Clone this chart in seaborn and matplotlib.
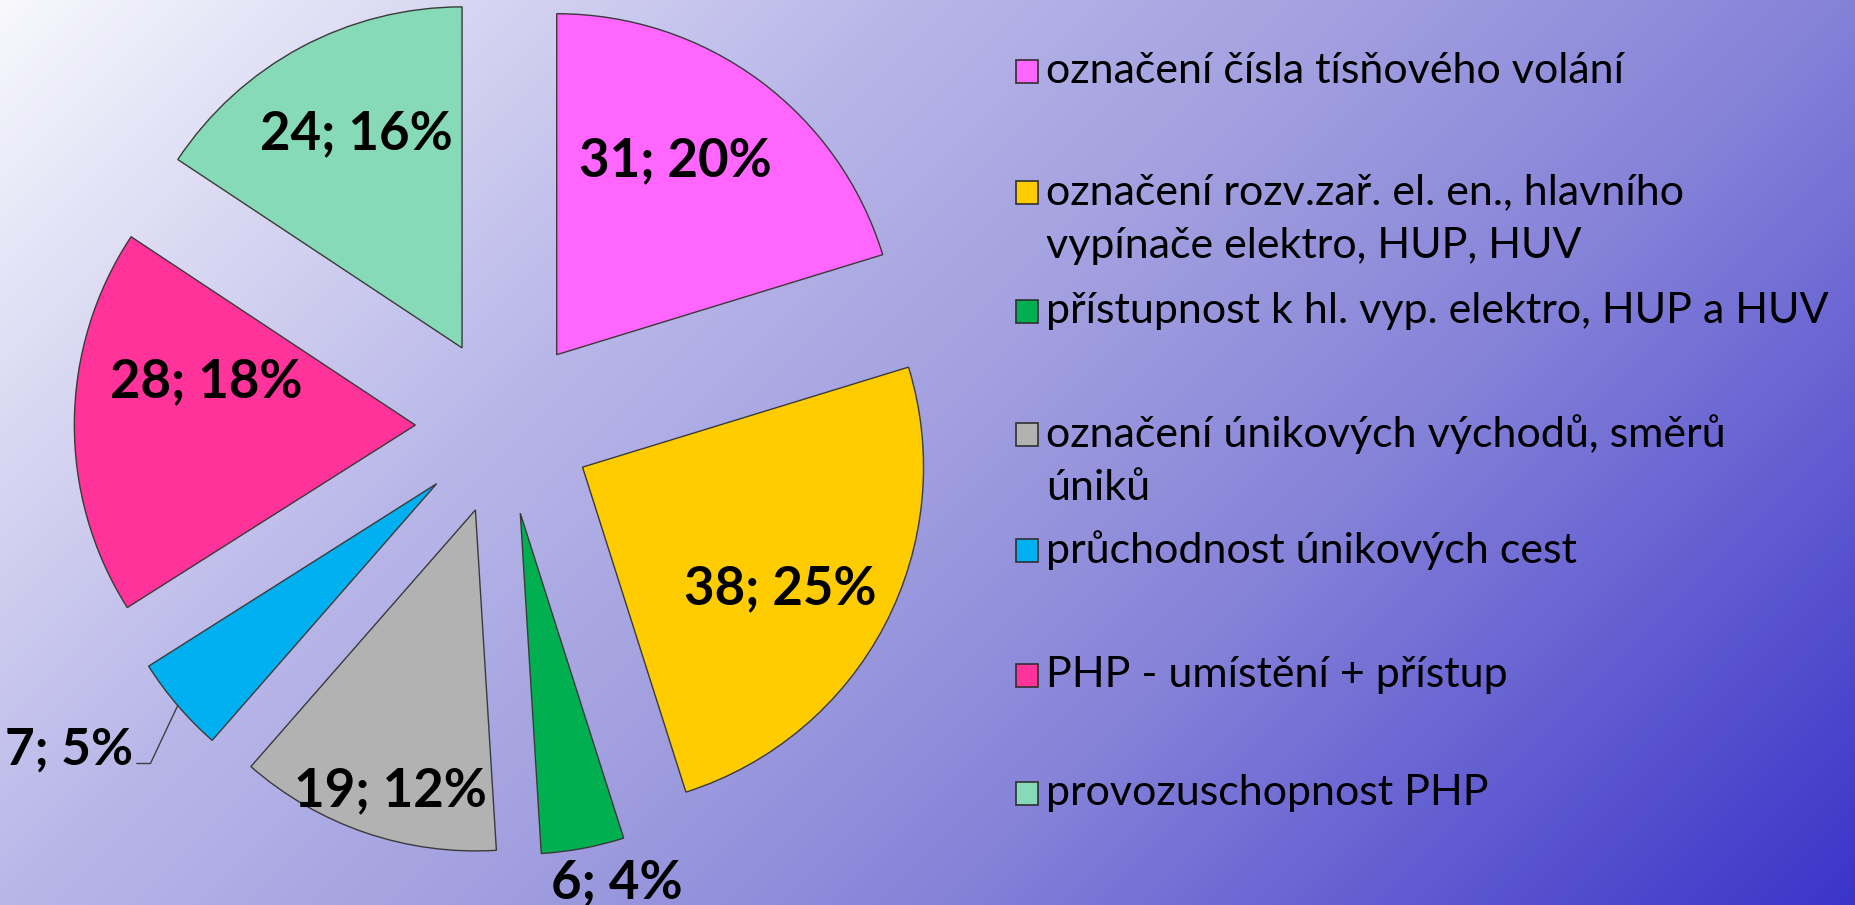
import numpy as np
import matplotlib
matplotlib.use("Agg")
import matplotlib.pyplot as plt
import seaborn as sns
from matplotlib.colors import LinearSegmentedColormap
from matplotlib.patches import Rectangle

# data
categories = [
    "označení čísla tísňového volání",
    "označení rozv.zař. el. en., hlavního\nvypínače elektro, HUP, HUV",
    "přístupnost k hl. vyp. elektro, HUP a HUV",
    "označení únikových východů, směrů\núniků",
    "průchodnost únikových cest",
    "PHP - umístění + přístup",
    "provozuschopnost PHP",
]
counts = [31, 38, 6, 19, 7, 28, 24]
shares = [20, 25, 4, 12, 5, 18, 16]
colors = ['#FF66FF', '#FFCC00', '#00B050', '#B2B2B2', '#00B0F0', '#FF3399', '#86DAB8']

# label placement (distance from wedge tip in radii, angle shift from bisector)
label_dist = [0.665, 0.68, 1.12, 0.86, None, 0.625, 0.70]
label_shift = [5, -4, 4, 2, 0, -11, -2]

sns.set_theme(style="white")
plt.rcParams['font.family'] = ['Lato', 'DejaVu Sans']

W, H = 1856, 905
R = 341.0
cx, cy = 504.0, 426.0

fig = plt.figure(figsize=(W / 100, H / 100), dpi=100)

# gradient background
bg = fig.add_axes([0, 0, 1, 1])
yy, xx = np.mgrid[0:H, 0:W]
grad = (xx + yy) / (W + H - 2)
cmap = LinearSegmentedColormap.from_list(
    "bg", [(0, '#f8f8fd'), (0.33, '#b8b6e8'), (0.5, '#a19fdf'), (0.67, '#8582d9'), (1, '#3b34c9')])
bg.imshow(grad, cmap=cmap, aspect='auto', interpolation='bilinear')
bg.axis('off')

# pie
ax = fig.add_axes([0, 0, 1, 1])
ax.patch.set_alpha(0)
wedges, _ = ax.pie(counts, colors=colors, startangle=90, counterclock=False,
                   explode=[0.26] * len(counts),
                   wedgeprops=dict(edgecolor='#3a3a3a', linewidth=1.0))
ax.set_xlim(-cx / R, (W - cx) / R)
ax.set_ylim(-(H - cy) / R, cy / R)
ax.set_aspect('auto')
ax.axis('off')

for i, w in enumerate(wedges):
    mid = np.deg2rad((w.theta1 + w.theta2) / 2)
    txt = f"{counts[i]}; {shares[i]}%"
    if label_dist[i] is None:
        # outside label with leader line
        p0 = (w.center[0] + np.cos(mid), w.center[1] + np.sin(mid))
        p1 = (p0[0] - 0.08, p0[1] - 0.17)
        p2 = (p1[0] - 0.04, p1[1])
        ax.plot([p0[0], p1[0], p2[0]], [p0[1], p1[1], p2[1]], color='#404040', lw=1)
        ax.text(p2[0] - 0.01, p2[1] + 0.04, txt, ha='right', va='center',
                fontsize=37, fontweight='bold', color='black')
        continue
    a = mid + np.deg2rad(label_shift[i])
    x = w.center[0] + label_dist[i] * np.cos(a)
    y = w.center[1] + label_dist[i] * np.sin(a)
    ax.text(x, y, txt, ha='center', va='center', fontsize=38,
            fontweight='bold', color='black')

# legend
lax = fig.add_axes([0, 0, 1, 1])
lax.patch.set_alpha(0)
lax.set_xlim(0, W)
lax.set_ylim(H, 0)
lax.axis('off')
legend_y = [71, 192, 311, 434, 550, 675, 793]
line_gap = 54
for lab, col, ly in zip(categories, colors, legend_y):
    lax.add_patch(Rectangle((1016, ly - 11), 22, 23, facecolor=col,
                            edgecolor='#303030', linewidth=1.2))
    for k, line in enumerate(lab.split("\n")):
        lax.text(1046, ly + k * line_gap, line, ha='left', va='center',
                 fontsize=31, color='black')

fig.savefig("out.png", dpi=100)
